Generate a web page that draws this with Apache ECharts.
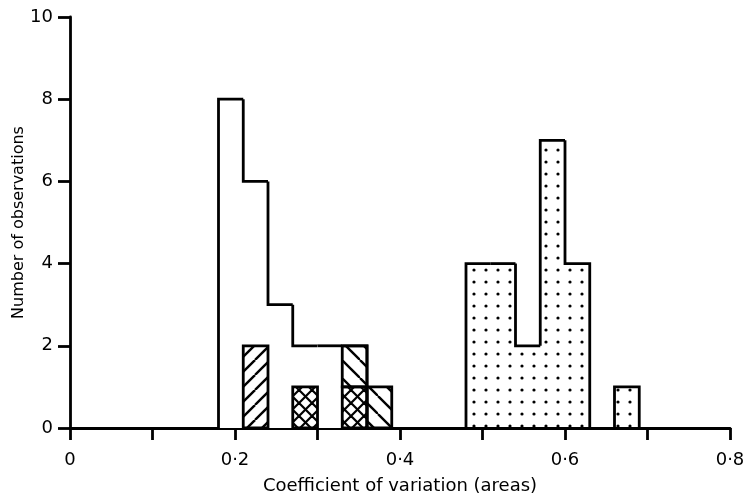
<!DOCTYPE html>
<html>
<head>
<meta charset="utf-8">
<script src="https://cdn.jsdelivr.net/npm/echarts@6/dist/echarts.min.js"></script>
<style>
html, body { margin: 0; padding: 0; background: #fff; }
#chart { width: 745px; height: 494px; }
</style>
</head>
<body>
<div id="chart"></div>
<script>
// bins are 0.03 wide, each array gives the left edge of the bin and its count
var binWidth = 0.03;
var openStarts = [0.18, 0.21, 0.24, 0.27, 0.30, 0.33];
var openCounts = [8, 6, 3, 2, 2, 2];
var slashStarts = [0.21];
var slashCounts = [2];
var crossStarts = [0.27, 0.33];
var crossCounts = [1, 1];
var backStarts = [0.33, 0.36];
var backBases = [1, 0];
var backCounts = [1, 1];
var dotStarts = [0.48, 0.51, 0.54, 0.57, 0.60, 0.63, 0.66];
var dotCounts = [4, 4, 2, 7, 4, 0, 1];
var xLabels = ['0', '0·2', '0·4', '0·6', '0·8'];

var FONT = '"DejaVu Sans", "Liberation Sans", Arial, sans-serif';
var LW = 2.8;

function hatch(size, dirs, lw) {
    var c = document.createElement('canvas');
    c.width = size; c.height = size;
    var ctx = c.getContext('2d');
    ctx.strokeStyle = '#000';
    ctx.lineWidth = lw;
    dirs.forEach(function (d) {
        for (var k = -size; k <= size; k += size) {
            ctx.beginPath();
            if (d === '/') {
                ctx.moveTo(k, size); ctx.lineTo(k + size, 0);
            } else {
                ctx.moveTo(k, 0); ctx.lineTo(k + size, size);
            }
            ctx.stroke();
        }
    });
    return { image: c, repeat: 'repeat' };
}

function dots(size, r) {
    var c = document.createElement('canvas');
    c.width = size; c.height = size;
    var ctx = c.getContext('2d');
    ctx.fillStyle = '#000';
    ctx.beginPath();
    ctx.arc(size / 2, size / 2, r, 0, Math.PI * 2);
    ctx.fill();
    return { image: c, repeat: 'repeat' };
}

function adjacent(a, b) {
    return Math.abs(a + binWidth - b) < 1e-6;
}

// outline of touching bins drawn as one stepped shape
function silhouette(starts, counts, fill) {
    return {
        type: 'custom',
        data: starts.map(function (s, i) { return [s, counts[i]]; }),
        renderItem: function (params, api) {
            var i = params.dataIndex;
            var s = api.value(0), c = api.value(1);
            if (!c) return;
            var prev = (i > 0 && adjacent(starts[i - 1], s)) ? counts[i - 1] : 0;
            var next = (i < starts.length - 1 && adjacent(s, starts[i + 1])) ? counts[i + 1] : 0;
            var p0 = api.coord([s, 0]);
            var p1 = api.coord([s + binWidth, c]);
            var pts = [api.coord([s, prev]), api.coord([s, c]), api.coord([s + binWidth, c])];
            if (!next) pts.push(api.coord([s + binWidth, 0]));
            return {
                type: 'group',
                children: [{
                    type: 'rect',
                    shape: { x: p0[0], y: p1[1], width: p1[0] - p0[0], height: p0[1] - p1[1] },
                    style: { fill: fill }
                }, {
                    type: 'polyline',
                    shape: { points: pts },
                    style: { stroke: '#000', lineWidth: LW, fill: null, lineJoin: 'miter' }
                }]
            };
        }
    };
}

function boxes(starts, bases, counts, fill) {
    return {
        type: 'custom',
        data: starts.map(function (s, i) { return [s, bases[i], bases[i] + counts[i]]; }),
        renderItem: function (params, api) {
            var p0 = api.coord([api.value(0), api.value(1)]);
            var p1 = api.coord([api.value(0) + binWidth, api.value(2)]);
            return {
                type: 'rect',
                shape: { x: p0[0], y: p1[1], width: p1[0] - p0[0], height: p0[1] - p1[1] },
                style: { fill: fill, stroke: '#000', lineWidth: LW }
            };
        }
    };
}

var myChart = echarts.init(document.getElementById('chart'));

myChart.setOption({
    animation: false,
    backgroundColor: '#fff',
    textStyle: { fontFamily: FONT },
    grid: { left: 70, right: 15, top: 17, bottom: 66, containLabel: false, outerBoundsMode: 'none' },
    xAxis: {
        type: 'value',
        min: 0,
        max: 0.8,
        interval: 0.1,
        name: 'Coefficient of variation (areas)',
        nameLocation: 'middle',
        nameGap: 49,
        nameMoveOverlap: false,
        nameTextStyle: { fontSize: 18, color: '#000', fontFamily: FONT },
        axisLine: { show: true, lineStyle: { color: '#000', width: LW } },
        axisTick: { show: true, length: 12, lineStyle: { color: '#000', width: LW } },
        splitLine: { show: false },
        axisLabel: {
            margin: 23,
            fontSize: 18,
            color: '#000',
            fontFamily: FONT,
            formatter: function (v) {
                var k = Math.round(v * 10);
                return k % 2 === 0 ? xLabels[k / 2] : '';
            }
        }
    },
    yAxis: {
        type: 'value',
        min: 0,
        max: 10,
        interval: 2,
        name: 'Number of observations',
        nameLocation: 'middle',
        nameGap: 43,
        nameMoveOverlap: false,
        nameTextStyle: { fontSize: 16, color: '#000', fontFamily: FONT },
        axisLine: { show: true, lineStyle: { color: '#000', width: LW } },
        axisTick: { show: true, length: 12, lineStyle: { color: '#000', width: LW } },
        splitLine: { show: false },
        axisLabel: { margin: 17, fontSize: 18, color: '#000', fontFamily: FONT }
    },
    series: [
        silhouette(openStarts, openCounts, '#fff'),
        boxes(slashStarts, [0], slashCounts, hatch(15, ['/'], 2.4)),
        boxes(crossStarts, [0, 0], crossCounts, hatch(13, ['/', '\\'], 2.2)),
        boxes(backStarts, backBases, backCounts, hatch(18, ['\\'], 2.4)),
        silhouette(dotStarts, dotCounts, dots(12, 1.6))
    ]
});
</script>
</body>
</html>
